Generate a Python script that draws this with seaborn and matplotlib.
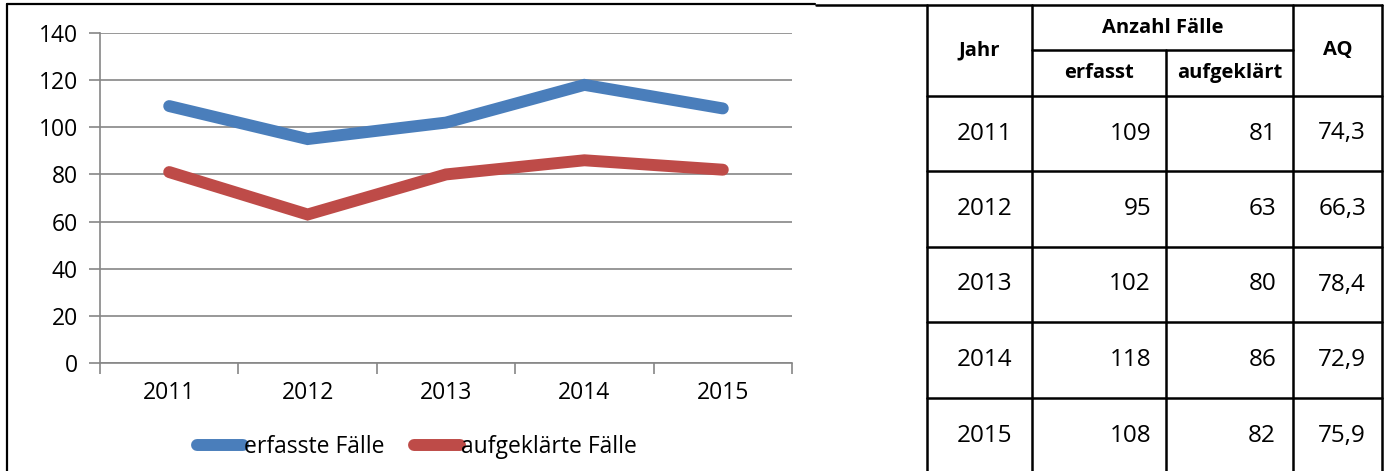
import pandas as pd
import matplotlib.pyplot as plt
import seaborn as sns
from matplotlib.lines import Line2D

# Daten
jahre = ['2011', '2012', '2013', '2014', '2015']
erfasst = [109, 95, 102, 118, 108]
aufgeklaert = [81, 63, 80, 86, 82]
aq = ['74,3', '66,3', '78,4', '72,9', '75,9']
serien = ['erfasste Fälle', 'aufgeklärte Fälle']
farben = ['#4A7EBB', '#BE4B48']

sns.set_theme(style="white")
plt.rcParams['font.family'] = ['Open Sans', 'DejaVu Sans']
plt.rcParams['text.color'] = 'black'

W, H = 1389, 471
fig = plt.figure(figsize=(W / 100, H / 100), dpi=100)

def fx(px):
    return px / W

def fy(py):
    return 1 - py / H

df = pd.DataFrame({
    'Jahr': jahre * 2,
    'Wert': erfasst + aufgeklaert,
    'Serie': [serien[0]] * 5 + [serien[1]] * 5,
})

ax = fig.add_axes([fx(100), fy(363), fx(792) - fx(100), fy(33) - fy(363)])
sns.lineplot(data=df, x='Jahr', y='Wert', hue='Serie', palette=farben,
             linewidth=8.6, ax=ax, legend=False, solid_capstyle='round',
             solid_joinstyle='miter')

ax.set_xlim(-0.5, 4.5)
ax.set_ylim(0, 140)
ax.set_yticks(range(0, 141, 20))
ax.set_xlabel('')
ax.set_ylabel('')
ax.grid(axis='y', color='#868686', linewidth=1.2)
ax.set_axisbelow(True)
for s in ['top', 'right']:
    ax.spines[s].set_visible(False)
for s in ['left', 'bottom']:
    ax.spines[s].set_color('#868686')
    ax.spines[s].set_linewidth(1.2)
ax.set_xticks([i - 0.5 for i in range(6)], minor=True)
ax.tick_params(axis='x', which='major', length=0, pad=13, labelsize=16.5, colors='black')
ax.tick_params(axis='x', which='minor', length=8, width=1.2, color='#868686', bottom=True)
ax.tick_params(axis='y', length=8, width=1.2, color='#868686', left=True, labelsize=16.5,
               labelcolor='black', pad=8)

# Legende
handles = [Line2D([0], [0], color=c, lw=8.6, solid_capstyle='round', label=l)
           for c, l in zip(farben, serien)]
fig.legend(handles=handles, loc='center', bbox_to_anchor=(fx(417), fy(447)), ncol=2,
           frameon=False, fontsize=16.5, handlelength=2.0, handletextpad=0.05,
           columnspacing=1.3)

# Rahmen um das Diagramm
lw_frame = 1.6
fig.add_artist(Line2D([fx(7), fx(7)], [fy(4), 0], color='black', lw=lw_frame))
fig.add_artist(Line2D([fx(7), fx(815)], [fy(4), fy(4)], color='black', lw=lw_frame))

# Tabelle
xs = [927, 1032, 1166, 1293, 1382]
ys = [5, 96, 171, 247, 322, 398, 474]
lw_t = 1.8
fig.add_artist(Line2D([fx(816), fx(xs[-1])], [fy(5), fy(5)], color='black', lw=lw_t))
for x in [xs[0], xs[1], xs[3], xs[4]]:
    fig.add_artist(Line2D([fx(x), fx(x)], [fy(5), fy(474)], color='black', lw=lw_t))
fig.add_artist(Line2D([fx(xs[2]), fx(xs[2])], [fy(50), fy(474)], color='black', lw=lw_t))
fig.add_artist(Line2D([fx(xs[1]), fx(xs[3])], [fy(50), fy(50)], color='black', lw=lw_t))
for y in ys[1:]:
    fig.add_artist(Line2D([fx(xs[0]), fx(xs[-1])], [fy(y), fy(y)], color='black', lw=lw_t))

hkw = dict(fontsize=14.5, fontweight='bold', ha='center', va='center')
fig.text(fx((xs[0] + xs[1]) / 2), fy(50), 'Jahr', **hkw)
fig.text(fx((xs[1] + xs[3]) / 2), fy(28), 'Anzahl Fälle', **hkw)
fig.text(fx((xs[1] + xs[2]) / 2), fy(73), 'erfasst', **hkw)
fig.text(fx((xs[2] + xs[3]) / 2), fy(73), 'aufgeklärt', **hkw)
fig.text(fx((xs[3] + xs[4]) / 2), fy(50), 'AQ', **hkw)

bkw = dict(fontsize=17.5, va='center')
for i, j in enumerate(jahre):
    yc = fy((ys[i + 1] + ys[i + 2]) / 2)
    fig.text(fx(985), yc, j, ha='center', **bkw)
    fig.text(fx(xs[2] - 15), yc, str(erfasst[i]), ha='right', **bkw)
    fig.text(fx(xs[3] - 17), yc, str(aufgeklaert[i]), ha='right', **bkw)
    fig.text(fx(xs[4] - 16), yc, aq[i], ha='right', **bkw)

fig.savefig('out.png', dpi=100)
